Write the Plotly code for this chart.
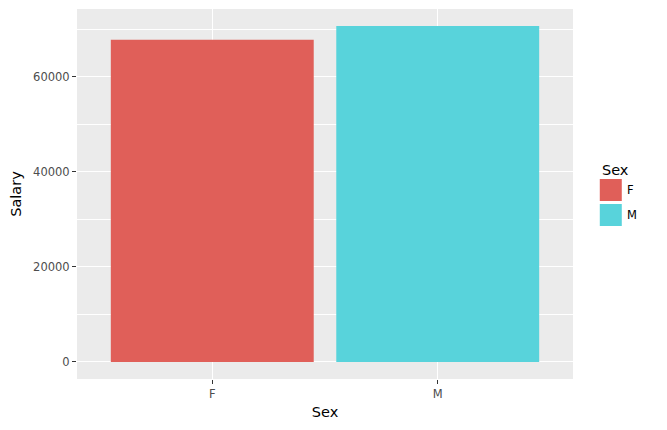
import plotly.graph_objects as go

sex = ["F", "M"]
salary = [67800, 70700]
colors = ["#E05F59", "#58D3DB"]

fig = go.Figure()
fig.add_trace(
    go.Bar(
        x=sex,
        y=salary,
        marker=dict(color=colors, line=dict(width=0)),
        width=0.9,
        showlegend=False,
    )
)

# ggplot-like legend drawn by hand (big square keys)
fig.add_annotation(
    x=1.054, y=(379 - 170) / 370, xref="paper", yref="paper",
    text="Sex", showarrow=False, xanchor="left", yanchor="middle",
    font=dict(size=14.5, color="#000000"),
)
for i, (label, col) in enumerate(zip(sex, colors)):
    ytop = (379 - 179 - i * 25) / 370
    fig.add_shape(
        type="rect", xref="paper", yref="paper",
        xsizemode="pixel", ysizemode="pixel",
        xanchor=1.054, yanchor=ytop,
        x0=0, x1=22, y0=0, y1=-22,
        fillcolor=col, line=dict(width=0),
    )
    fig.add_annotation(
        x=1.054, y=ytop, xref="paper", yref="paper",
        xshift=25, yshift=-11,
        text=label, showarrow=False, xanchor="left", yanchor="middle",
        font=dict(size=11.5, color="#000000"),
    )

# page body adds an 8px offset, so margins are shifted to compensate
fig.update_layout(
    width=667,
    height=430,
    margin=dict(l=69, r=102, t=1, b=59),
    paper_bgcolor="white",
    plot_bgcolor="#EBEBEB",
    font=dict(family="DejaVu Sans", color="#000000"),
    bargap=0.1,
)
fig.update_xaxes(
    title=dict(text="Sex", font=dict(size=14.5), standoff=7),
    range=[-0.6, 1.6],
    showgrid=True, gridcolor="white", gridwidth=1.3,
    ticks="outside", ticklen=4, tickcolor="#333333",
    tickfont=dict(size=11.5, color="#4D4D4D"),
    zeroline=False, showline=False,
)
fig.update_yaxes(
    title=dict(text="Salary", font=dict(size=14.5), standoff=10),
    range=[-3600, 74300],
    tickvals=[0, 20000, 40000, 60000],
    ticktext=["0", "20000", "40000", "60000"],
    showgrid=True, gridcolor="white", gridwidth=1.3,
    minor=dict(tickvals=[10000, 30000, 50000, 70000], showgrid=True,
               gridcolor="white", gridwidth=0.6, ticks=""),
    ticks="outside", ticklen=4, tickcolor="#333333",
    tickfont=dict(size=11.5, color="#4D4D4D"),
    zeroline=False, showline=False,
)

fig.write_html("out.html")
